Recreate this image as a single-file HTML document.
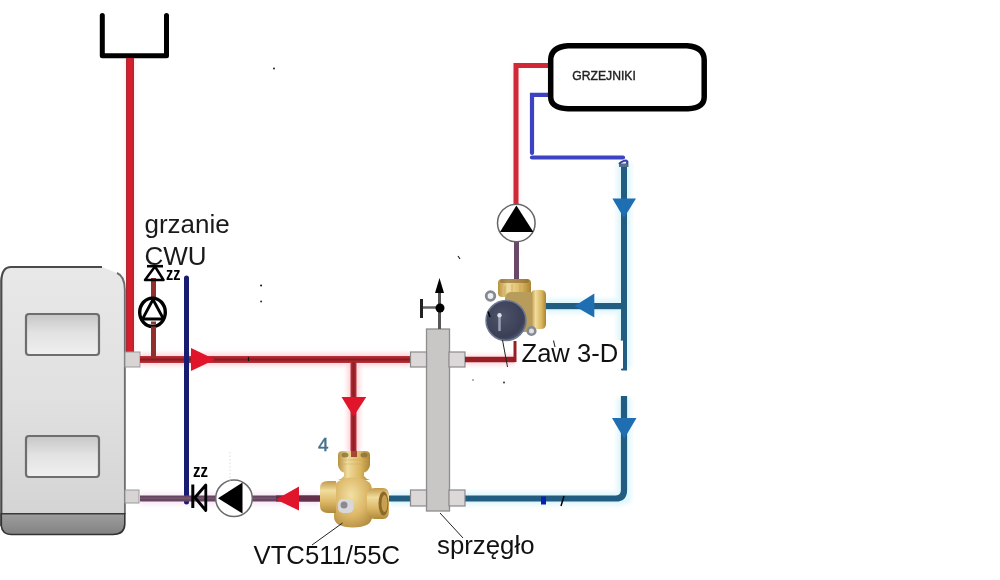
<!DOCTYPE html>
<html><head><meta charset="utf-8">
<style>
html,body{margin:0;padding:0;background:#fff;width:1000px;height:580px;overflow:hidden}
svg{position:absolute;left:0;top:0;display:block;filter:blur(0.45px)}
text{font-family:"Liberation Sans",sans-serif}
</style></head><body>
<svg width="1000" height="580" viewBox="0 0 1000 580">
<defs>
  <linearGradient id="redH" x1="0" y1="0" x2="0" y2="1">
    <stop offset="0" stop-color="#c03440"/>
    <stop offset="0.5" stop-color="#8c1a20"/>
    <stop offset="1" stop-color="#c03440"/>
  </linearGradient>
  <linearGradient id="redV" x1="0" y1="0" x2="1" y2="0">
    <stop offset="0" stop-color="#b8303a"/>
    <stop offset="0.5" stop-color="#901c24"/>
    <stop offset="1" stop-color="#b8303a"/>
  </linearGradient>
  <linearGradient id="boil" x1="0" y1="0" x2="0" y2="1">
    <stop offset="0" stop-color="#e8e8e8"/>
    <stop offset="0.5" stop-color="#e0e0e0"/>
    <stop offset="1" stop-color="#d2d2d2"/>
  </linearGradient>
  <linearGradient id="boilh" x1="0" y1="0" x2="1" y2="0">
    <stop offset="0" stop-color="#fff" stop-opacity="0"/>
    <stop offset="0.9" stop-color="#fff" stop-opacity="0"/>
    <stop offset="0.97" stop-color="#fff" stop-opacity="0.6"/>
    <stop offset="1" stop-color="#fff" stop-opacity="0"/>
  </linearGradient>
  <linearGradient id="panel" x1="0" y1="0" x2="0" y2="1">
    <stop offset="0" stop-color="#c6c6c6"/>
    <stop offset="0.45" stop-color="#e2e2e2"/>
    <stop offset="1" stop-color="#f0f0f0"/>
  </linearGradient>
  <linearGradient id="base" x1="0" y1="0" x2="0" y2="1">
    <stop offset="0" stop-color="#9e9e9e"/>
    <stop offset="1" stop-color="#828282"/>
  </linearGradient>
  <linearGradient id="brassV" x1="0" y1="0" x2="0" y2="1">
    <stop offset="0" stop-color="#c49a48"/>
    <stop offset="0.3" stop-color="#f0dc9e"/>
    <stop offset="0.65" stop-color="#dcb866"/>
    <stop offset="1" stop-color="#b08a3a"/>
  </linearGradient>
  <linearGradient id="brassH" x1="0" y1="0" x2="1" y2="0">
    <stop offset="0" stop-color="#b89040"/>
    <stop offset="0.3" stop-color="#f0dc9e"/>
    <stop offset="0.7" stop-color="#dab660"/>
    <stop offset="1" stop-color="#a88434"/>
  </linearGradient>
  <radialGradient id="brassR" cx="0.45" cy="0.35" r="0.75">
    <stop offset="0" stop-color="#f2e0a4"/>
    <stop offset="0.55" stop-color="#dcb868"/>
    <stop offset="1" stop-color="#b08a3c"/>
  </radialGradient>
  <radialGradient id="act" cx="0.4" cy="0.4" r="0.7">
    <stop offset="0" stop-color="#4e546a"/>
    <stop offset="0.75" stop-color="#3a3f56"/>
    <stop offset="1" stop-color="#5e6880"/>
  </radialGradient>
  <filter id="soft" x="-20%" y="-20%" width="140%" height="140%"><feGaussianBlur stdDeviation="0.45"/></filter>
  <filter id="halo" x="-50%" y="-50%" width="200%" height="200%"><feGaussianBlur stdDeviation="2"/></filter>
  <filter id="soft2" x="-20%" y="-20%" width="140%" height="140%"><feGaussianBlur stdDeviation="0.6"/></filter>
</defs>


<!-- halos (jpeg chroma bleed) -->
<g filter="url(#halo)" opacity="0.45">
  <rect x="125" y="58" width="10" height="297" fill="#ffc8d0"/>
  <rect x="140" y="353" width="271" height="13" fill="#ffa8b4"/>
  <rect x="347" y="362" width="13" height="90" fill="#ffa8b4"/>
  <rect x="465" y="355" width="50" height="10" fill="#ffa8b4"/>
  <rect x="389" y="492" width="236" height="13" fill="#b8ecfa"/>
  <rect x="617" y="162" width="14" height="206" fill="#b8ecfa"/>
  <rect x="617" y="398" width="14" height="105" fill="#b8ecfa"/>
  <rect x="545" y="299" width="77" height="14" fill="#b8ecfa"/>
  <rect x="140" y="493" width="180" height="12" fill="#f0d0ec"/>
  <rect x="513" y="62" width="6" height="142" fill="#ffc8d0"/>
</g>

<!-- expansion tank U -->
<path d="M102.3 15.5 V55.7 H166.5 V15.5" fill="none" stroke="#000" stroke-width="5" stroke-linecap="round" stroke-linejoin="round"/>

<!-- red vertical pipe from tank -->
<rect x="126" y="58" width="8" height="297" fill="#d81e2c"/>
<rect x="126" y="58" width="1.5" height="297" fill="#a82a34"/>
<rect x="132.5" y="58" width="1.5" height="297" fill="#a82a34"/>

<!-- boiler -->
<path d="M2 281 Q2 267 11 267 H102 L117 273 Q124.5 276 124.5 286 V527 Q124.5 534.5 116 534.5 H11 Q2 534.5 2 526 Z" fill="url(#boil)"/>
<rect x="110" y="280" width="14" height="234" fill="url(#boilh)"/>
<path d="M1.3 526 V281 Q1.8 267 11 267 H102" fill="none" stroke="#4a4a4a" stroke-width="2.2"/>
<path d="M117 273 Q124.8 276 124.8 290 V514" fill="none" stroke="#6e6e6e" stroke-width="2"/>
<path d="M1 513.5 H125 V524 Q125 534.5 113 534.5 H11 Q1 534.5 1 526 Z" fill="url(#base)"/>
<path d="M1 513.8 H125" stroke="#3a3a3a" stroke-width="1.5"/>
<path d="M1.3 513 V526 Q2.5 534.5 11 534.5 H113 Q124.5 534.5 124.8 524 V513" fill="none" stroke="#333" stroke-width="1.6"/>
<rect x="26" y="314" width="73" height="41" rx="3" fill="url(#panel)" stroke="#6e6e6e" stroke-width="2.2"/>
<rect x="26" y="436" width="73" height="41" rx="3" fill="url(#panel)" stroke="#6e6e6e" stroke-width="2.2"/>

<!-- connectors on boiler -->
<rect x="125" y="352" width="15" height="15" fill="#d8d4d4" stroke="#9a9a9a" stroke-width="1"/>
<rect x="125" y="490" width="14" height="13" fill="#d8d4d4" stroke="#9a9a9a" stroke-width="1"/>

<!-- supply horizontal red pipe -->
<rect x="140" y="356" width="271" height="7" fill="url(#redH)"/>
<!-- CWU brown pipe -->
<rect x="151" y="278" width="5" height="79" fill="#922e2c"/>
<!-- CWU pump -->
<ellipse cx="152.5" cy="312.3" rx="12.8" ry="14.2" fill="#fff" stroke="#000" stroke-width="3.4"/>
<path d="M153 299.5 L142.5 319 H163.5 Z" fill="none" stroke="#000" stroke-width="2.8" stroke-linejoin="round"/>
<rect x="151" y="321.5" width="5" height="3" fill="#8a3a36"/>
<rect x="151" y="326.5" width="5" height="31" fill="#922e2c"/>
<!-- check valve -->
<path d="M147 266.2 H163" fill="none" stroke="#000" stroke-width="2.6"/>
<path d="M155 266.5 L145 280 H163.5 Z" fill="none" stroke="#000" stroke-width="2.5" stroke-linejoin="round"/>
<text x="166" y="279.5" font-size="18" font-weight="bold" textLength="14.5" lengthAdjust="spacingAndGlyphs">zz</text>

<!-- grzanie CWU -->
<text x="144.5" y="233" font-size="26" fill="#1a1a1a">grzanie</text>
<text x="144.5" y="264.5" font-size="26" fill="#1a1a1a">CWU</text>

<!-- navy vertical -->
<path d="M186.5 278 V502" stroke="#181c70" stroke-width="5" stroke-linecap="round"/>

<!-- red arrow right -->
<path d="M191 348 L215 359.5 L191 371 Z" fill="#e0142a"/>

<!-- branch down to VTC -->
<rect x="350.5" y="362" width="6" height="92" fill="url(#redV)"/>
<path d="M341.5 397 H366.3 L353.5 416.5 Z" fill="#e0142a"/>

<!-- return pipe bottom (purple) -->
<rect x="140" y="495.5" width="185" height="6" fill="#664662"/>
<rect x="140" y="497.5" width="185" height="1.5" fill="#7e6078" opacity="0.6"/>
<rect x="276" y="495.5" width="48" height="6" fill="#62304a"/>
<!-- red arrow left -->
<path d="M299 486.5 L276 499.5 L299 510.5 Z" fill="#e0142a"/>

<!-- check valve bottom K -->
<path d="M192.8 484.5 V508" stroke="#000" stroke-width="3"/>
<path d="M205.8 485 V510.5 L195 497.5 Z" fill="none" stroke="#000" stroke-width="2.8" stroke-linejoin="round"/>
<text x="193" y="476.5" font-size="18" font-weight="bold" textLength="15" lengthAdjust="spacingAndGlyphs">zz</text>

<!-- bottom pump -->
<circle cx="234" cy="498.3" r="18.3" fill="#fff" stroke="#6a6a6a" stroke-width="1.5"/>
<path d="M218 498.3 L242.5 482.5 V513.5 Z" fill="#000"/>

<!-- 4 -->
<text x="318" y="451" font-size="19" fill="#46708e" stroke="#46708e" stroke-width="0.45" filter="url(#soft)">4</text>

<!-- VTC valve -->
<g filter="url(#soft2)">
  <path d="M338 455 Q338 451 343 451 H365 Q370 451 370 455 V465 Q369 472 362 473 H346 Q339 472 338 465 Z" fill="url(#brassH)"/>
  <rect x="351" y="451" width="6" height="6" fill="#8e2a22" opacity="0.8"/>
  <ellipse cx="345" cy="455" rx="3.5" ry="2.5" fill="#8a7038" opacity="0.8"/>
  <ellipse cx="364" cy="455" rx="3.5" ry="2.5" fill="#8a7038" opacity="0.8"/>
  <path d="M339 460 H369 M339 464 H369" stroke="#c8a860" stroke-width="0.8" opacity="0.6"/>
  <path d="M344 470 H364 V476 Q366 479 370 480 H338 Q342 479 344 476 Z" fill="url(#brassH)"/>
  <path d="M334 490 Q334 478 353 477.5 Q372 478 372 490 V517 Q372 527 353 527.5 Q334 527 334 517 Z" fill="url(#brassR)"/>
  <path d="M320 488 Q320 481 328 481 H336 V513 H328 Q320 513 320 506 Z" fill="url(#brassV)"/>
  <path d="M367 495 Q367 488 375 488 H383 Q389 488 389 496 V511 Q389 519 383 519 H375 Q367 519 367 512 Z" fill="url(#brassV)"/>
  <ellipse cx="383.5" cy="503.5" rx="5" ry="12" fill="#8a6a28"/>
  <ellipse cx="384.5" cy="503.5" rx="3" ry="8.5" fill="#c9a050"/>
  <rect x="338" y="499" width="15.5" height="14" rx="5" fill="#d8d8dc"/>
  <ellipse cx="344" cy="505" rx="3.5" ry="3.5" fill="#8a8a90"/>
</g>

<!-- blue return pipe from VTC to sprzeglo and loop -->
<path d="M389 498.5 H616 Q624 498.5 624 490 V396" fill="none" stroke="#225c80" stroke-width="6.2"/>
<rect x="541" y="496.5" width="5" height="8" fill="#0a20b0"/>
<path d="M561 506 L564 496" stroke="#000" stroke-width="1.5"/>
<path d="M612 418 H636.5 L624.2 438.8 Z" fill="#1f6eb2"/>

<!-- sprzeglo -->
<rect x="426.5" y="329" width="23" height="182" fill="#c9c6c6" stroke="#8e8e8e" stroke-width="1.3"/>
<rect x="410.5" y="352" width="16" height="15" fill="#dcd8d8" stroke="#8a8a8a" stroke-width="1.2"/>
<rect x="449" y="352" width="16" height="15" fill="#dcd8d8" stroke="#8a8a8a" stroke-width="1.2"/>
<rect x="410.5" y="490" width="16" height="16" fill="#dcd8d8" stroke="#8a8a8a" stroke-width="1.2"/>
<rect x="449" y="490" width="16" height="16" fill="#dcd8d8" stroke="#8a8a8a" stroke-width="1.2"/>
<!-- air vent -->
<rect x="438" y="290" width="3" height="39" fill="#555"/>
<path d="M421.5 307.5 H439" stroke="#666" stroke-width="2.5"/>
<path d="M421.5 299 V318" stroke="#222" stroke-width="3"/>
<circle cx="440" cy="308" r="4.5" fill="#000"/>
<path d="M439.5 278 L435 293 H444 Z" fill="#000"/>

<!-- red pipe sprzeglo to Zaw -->
<path d="M465 359.5 H515" fill="none" stroke="#9a1e26" stroke-width="5.5"/>
<path d="M515 362 V341" fill="none" stroke="#9a1e26" stroke-width="3"/>
<!-- purple pipe up from Zaw to pump -->
<rect x="514" y="240" width="5" height="40" fill="#6a4868"/>
<!-- red pipe from radiator -->
<path d="M516 206 V65.5 H549" fill="none" stroke="#d02836" stroke-width="5"/>
<!-- blue drawn -->
<path d="M532 153 V94.8 H549" fill="none" stroke="#3c42c2" stroke-width="4.2" stroke-linecap="round"/>
<path d="M532 157.5 H623" fill="none" stroke="#3c42c2" stroke-width="4.2" stroke-linecap="round"/>

<!-- right blue pipe top section -->
<rect x="621" y="164" width="6" height="206" fill="#225c80"/>
<rect x="619" y="163.5" width="9.5" height="3.5" fill="#5a6c8c"/>
<path d="M619 164 Q623 160.5 626 160.5 Q628.5 161.5 626.5 164" fill="none" stroke="#3c42a8" stroke-width="2.2"/>
<path d="M612.4 198.5 H636 L623.9 218 Z" fill="#1f6eb2"/>
<!-- horizontal blue to Zaw -->
<rect x="545" y="303" width="77" height="6.2" fill="#225c80"/>
<path d="M574.5 306 L594.3 293.5 V317.6 Z" fill="#1f6eb2"/>

<!-- upper pump -->
<circle cx="516.3" cy="223" r="18.8" fill="#fff" stroke="#666" stroke-width="1.5"/>
<path d="M516.4 205.5 L500 232 H533.4 Z" fill="#000"/>

<!-- Zaw 3-D valve -->
<g filter="url(#soft)">
  <path d="M498 283 Q498 279 502 279 H527 Q531 279 531 283 V293 Q531 297 527 297 H502 Q498 297 498 293 Z" fill="url(#brassH)"/>
  <rect x="500" y="279" width="29" height="4" rx="2" fill="#8a6a30" opacity="0.65"/>
  <path d="M505 286 V296 M512 284 V296 M520 284 V296" stroke="#b8943c" stroke-width="1" opacity="0.5"/>
  <rect x="505" y="292" width="30" height="40" rx="6" fill="#b89c5c"/>
  <path d="M531 294 Q531 290 536 290 H541 Q546 290 546 295 V324 Q546 329 541 329 H536 Q531 329 531 324 Z" fill="url(#brassH)"/>
  <circle cx="490.5" cy="296" r="4.3" fill="#f0f0f0" stroke="#848a94" stroke-width="2.8"/>
  <circle cx="531.5" cy="331" r="3.8" fill="#e0e0e0" stroke="#848a94" stroke-width="2.6"/>
  <circle cx="506" cy="320.5" r="20" fill="url(#act)" stroke="#6e7a92" stroke-width="1.5"/>
  <path d="M499.5 315 V331" stroke="#9aa0b4" stroke-width="2.5"/>
  <circle cx="499.5" cy="315.3" r="2.2" fill="#e0e0ec"/>
</g>
<path d="M488 311.5 L490 317" stroke="#000" stroke-width="1.5"/>
<!-- leader lines -->
<path d="M502.5 340 L507.5 367" stroke="#222" stroke-width="1"/>
<path d="M342.5 523 L312 545" stroke="#222" stroke-width="1"/>
<path d="M440 513 L463 538" stroke="#222" stroke-width="1"/>

<!-- Zaw 3-D label box -->
<rect x="518" y="340" width="105" height="29" fill="#fff"/>
<rect x="620.8" y="339" width="2.5" height="1.6" fill="#225c80"/>
<path d="M621.5 369.5 H627" stroke="#225c80" stroke-width="2"/>
<text x="521.5" y="362.3" font-size="25.6" fill="#111">Zaw 3-D</text>
<path d="M553.5 340.5 L555 347" stroke="#222" stroke-width="1.1"/>

<!-- radiator box -->
<path d="M568 45.7 H687 Q704.2 47 704.2 60 V97 Q704.2 108 688 108.8 H568 Q550.7 108 550.7 97 V60 Q550.7 47 568 45.7 Z" fill="#fff" stroke="#000" stroke-width="5.5"/>
<text x="572.3" y="80.3" font-size="13.2" fill="#222" stroke="#222" stroke-width="0.4" textLength="63.5" lengthAdjust="spacingAndGlyphs">GRZEJNIKI</text>

<text x="253.5" y="563.6" font-size="25.7" fill="#111">VTC511/55C</text>
<text x="437" y="554.3" font-size="25.8" fill="#111">sprzęgło</text>

<!-- specks -->
<circle cx="261.1" cy="285.5" r="1.1" fill="#222"/>
<circle cx="261.1" cy="301.5" r="1" fill="#333"/>
<circle cx="473" cy="380" r="0.8" fill="#555"/>
<circle cx="504" cy="382.5" r="1" fill="#333"/>

<circle cx="274" cy="68.5" r="1" fill="#222"/>
<path d="M458 256 L460 259" stroke="#222" stroke-width="1.2"/>
<path d="M230 452 V484" stroke="#d4d4d4" stroke-width="0.8" stroke-dasharray="1.5 2"/>
<path d="M248.5 357 V361" stroke="#111" stroke-width="1.2"/>
</svg>
</body></html>
